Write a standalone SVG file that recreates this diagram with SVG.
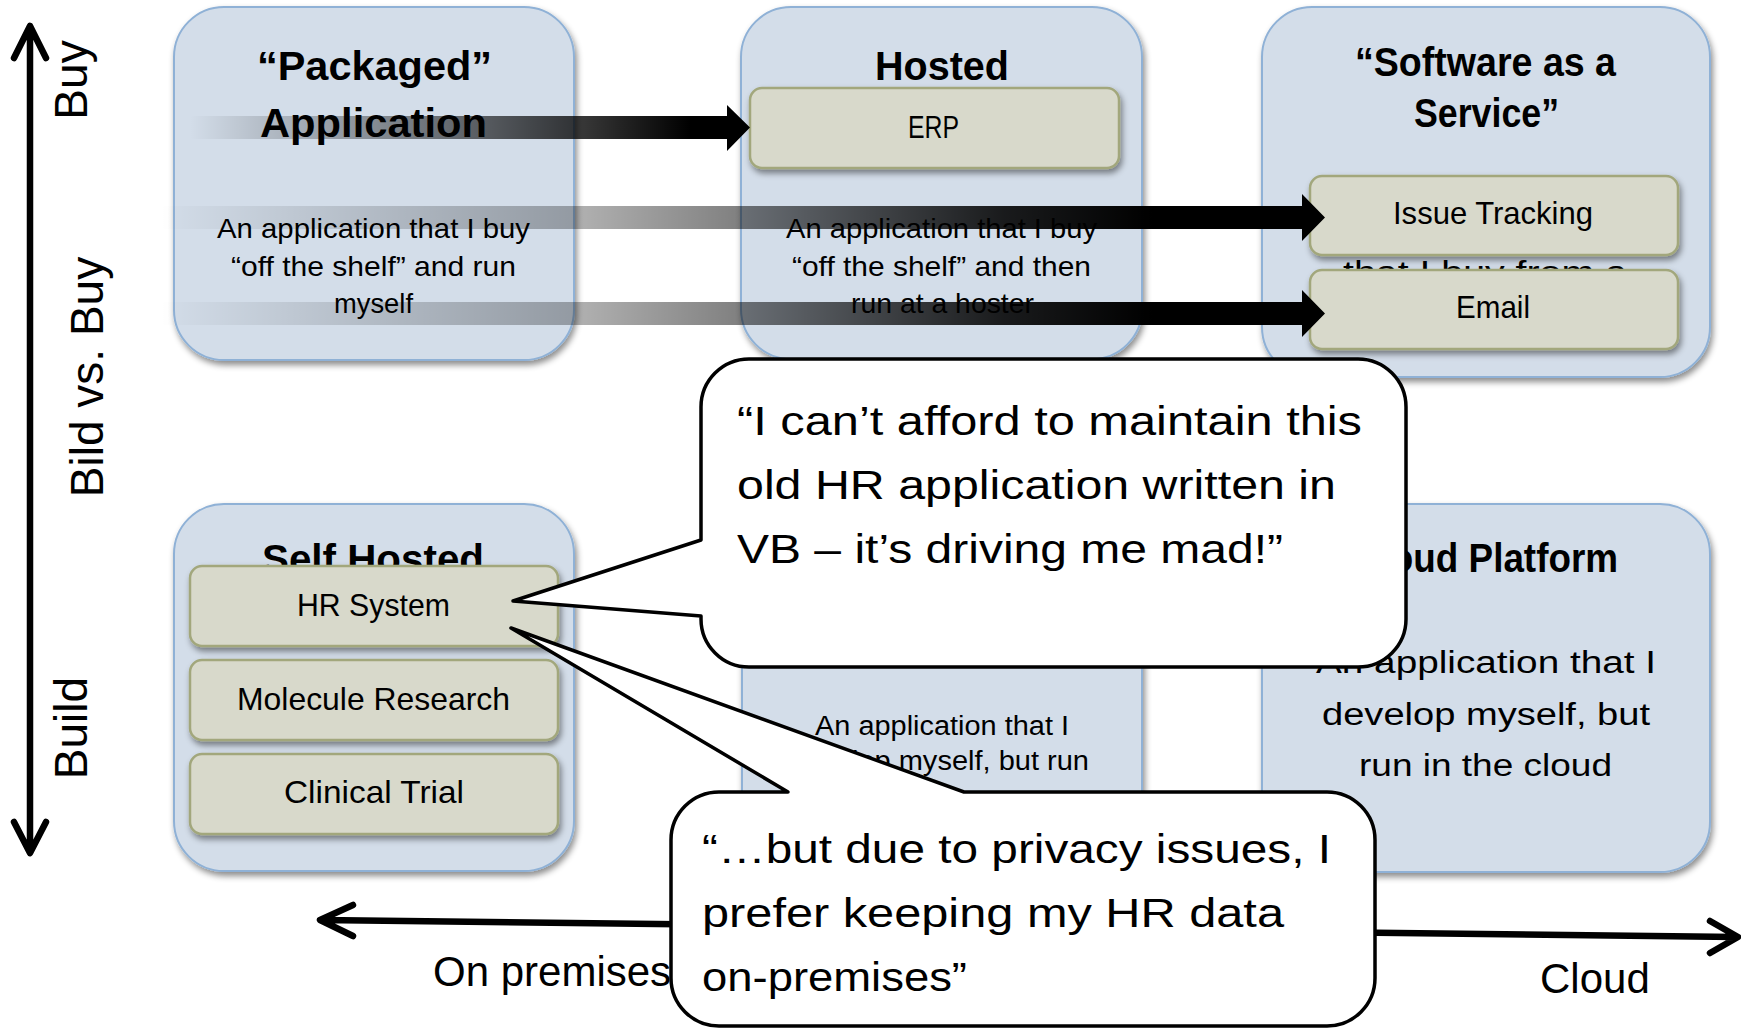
<svg xmlns="http://www.w3.org/2000/svg" width="1741" height="1028" viewBox="0 0 1741 1028">
<style>
text{font-family:"Liberation Sans",Arial,sans-serif;fill:#000}
.box{fill:#d3dde9;stroke:#8fb1d6;stroke-width:2}
.item{fill:#d8d9cb;stroke:#a2a77c;stroke-width:2.5}
.title{font-size:40px;font-weight:bold}
.body{font-size:28px}
.lbl{font-size:32px}
.bub{fill:#fff;stroke:#000;stroke-width:3.5;stroke-linejoin:round}
.axis{fill:none;stroke:#000;stroke-width:6.5;stroke-linecap:round;stroke-linejoin:round}
.ax{font-size:46px}
</style>
<defs>
<filter id="sh" x="-10%" y="-10%" width="125%" height="130%">
<feDropShadow dx="2" dy="4" stdDeviation="3" flood-color="#000" flood-opacity="0.45"/>
</filter>
<linearGradient id="g1" gradientUnits="userSpaceOnUse" x1="190" y1="0" x2="690" y2="0">
<stop offset="0" stop-color="#000" stop-opacity="0"/>
<stop offset="1" stop-color="#000" stop-opacity="1"/>
</linearGradient>
<linearGradient id="g2" gradientUnits="userSpaceOnUse" x1="160" y1="0" x2="1300" y2="0">
<stop offset="0" stop-color="#000" stop-opacity="0"/>
<stop offset="0.36" stop-color="#000" stop-opacity="0.3"/>
<stop offset="0.51" stop-color="#000" stop-opacity="0.5"/>
<stop offset="0.74" stop-color="#000" stop-opacity="0.88"/>
<stop offset="0.87" stop-color="#000" stop-opacity="1"/>
</linearGradient>
</defs>

<g id="axes">
<path class="axis" d="M30,28 V851 M14,58 L30,26 L46,58 M14,822 L30,853 L46,822"/>
<path class="axis" d="M321,920 L1736,937 M353,905 L320,920 L353,936 M1710,921 L1738,937 L1710,953"/>
<text class="ax" text-anchor="middle" transform="translate(87,80) rotate(-90)">Buy</text>
<text class="ax" text-anchor="middle" font-size="47" transform="translate(103,377) rotate(-90)">Bild vs. Buy</text>
<text class="ax" text-anchor="middle" transform="translate(87,728) rotate(-90)">Build</text>
<text x="433" y="986" font-size="42">On premises</text>
<text x="1540" y="993" font-size="42">Cloud</text>
</g>

<g id="packaged">
<rect class="box" x="174" y="7" width="400" height="353" rx="50" filter="url(#sh)"/>
<text class="title" x="257" y="80" textLength="235" lengthAdjust="spacingAndGlyphs">“Packaged”</text>
<text class="title" x="260" y="137" textLength="227" lengthAdjust="spacingAndGlyphs">Application</text>
<text class="body" x="217" y="238" textLength="313" lengthAdjust="spacingAndGlyphs">An application that I buy</text>
<text class="body" x="231" y="276" textLength="285" lengthAdjust="spacingAndGlyphs">“off the shelf” and run</text>
<text class="body" x="334" y="313" textLength="79" lengthAdjust="spacingAndGlyphs">myself</text>
</g>

<g id="hosted">
<rect class="box" x="741" y="7" width="401" height="352" rx="50" filter="url(#sh)"/>
<text class="title" x="875" y="80" textLength="134" lengthAdjust="spacingAndGlyphs">Hosted</text>
<text class="body" x="786" y="238" textLength="311" lengthAdjust="spacingAndGlyphs">An application that I buy</text>
<text class="body" x="792" y="276" textLength="299" lengthAdjust="spacingAndGlyphs">“off the shelf” and then</text>
<text class="body" x="851" y="313" textLength="183" lengthAdjust="spacingAndGlyphs">run at a hoster</text>
</g>
<g id="erp">
<rect class="item" x="750" y="88" width="369" height="80" rx="12" filter="url(#sh)"/>
<text class="lbl" x="908" y="138" textLength="51" lengthAdjust="spacingAndGlyphs">ERP</text>
</g>

<g id="saas">
<rect class="box" x="1262" y="7" width="448" height="370" rx="50" filter="url(#sh)"/>
<text class="title" x="1355" y="76" font-size="38" textLength="261" lengthAdjust="spacingAndGlyphs">“Software as a</text>
<text class="title" x="1414" y="127" font-size="38" textLength="145" lengthAdjust="spacingAndGlyphs">Service”</text>
<text x="1343" y="283" font-size="31" textLength="284" lengthAdjust="spacingAndGlyphs">that I buy from a</text>
</g>
<g id="issue">
<rect class="item" x="1310" y="176" width="368" height="79" rx="12" filter="url(#sh)"/>
<text class="lbl" x="1393" y="224" textLength="200" lengthAdjust="spacingAndGlyphs">Issue Tracking</text>
</g>
<g id="email">
<rect class="item" x="1310" y="270" width="368" height="79" rx="12" filter="url(#sh)"/>
<text class="lbl" x="1456" y="318" textLength="74" lengthAdjust="spacingAndGlyphs">Email</text>
</g>

<g id="selfhosted">
<rect class="box" x="174" y="504" width="400" height="367" rx="50" filter="url(#sh)"/>
<text class="title" x="262" y="573" textLength="222" lengthAdjust="spacingAndGlyphs">Self Hosted</text>
</g>
<g id="hr">
<rect class="item" x="190" y="566" width="368" height="80" rx="12" filter="url(#sh)"/>
<text class="lbl" x="297" y="616" textLength="153" lengthAdjust="spacingAndGlyphs">HR System</text>
</g>
<g id="molecule">
<rect class="item" x="190" y="660" width="368" height="80" rx="12" filter="url(#sh)"/>
<text class="lbl" x="237" y="710" textLength="273" lengthAdjust="spacingAndGlyphs">Molecule Research</text>
</g>
<g id="clinical">
<rect class="item" x="190" y="754" width="368" height="80" rx="12" filter="url(#sh)"/>
<text class="lbl" x="284" y="803" textLength="180" lengthAdjust="spacingAndGlyphs">Clinical Trial</text>
</g>

<g id="hosted-build">
<rect class="box" x="742" y="504" width="400" height="367" rx="50" filter="url(#sh)"/>
<text x="815" y="735" font-size="27" textLength="254" lengthAdjust="spacingAndGlyphs">An application that I</text>
<text x="789" y="770" font-size="27" textLength="300" lengthAdjust="spacingAndGlyphs">develop myself, but run</text>
</g>

<g id="cloudplatform">
<rect class="box" x="1262" y="504" width="448" height="368" rx="50" filter="url(#sh)"/>
<text class="title" x="1354" y="572" font-size="38" textLength="264" lengthAdjust="spacingAndGlyphs">Cloud Platform</text>
<text x="1316" y="673" font-size="31" textLength="340" lengthAdjust="spacingAndGlyphs">An application that I</text>
<text x="1322" y="725" font-size="31" textLength="328" lengthAdjust="spacingAndGlyphs">develop myself, but</text>
<text x="1359" y="776" font-size="31" textLength="253" lengthAdjust="spacingAndGlyphs">run in the cloud</text>
</g>

<g id="connectors">
<path fill="url(#g1)" d="M190,116 H727 V105 L750,127.5 L727,151 V139 H190 Z"/>
<path fill="url(#g2)" d="M160,206 H1302 V194 L1325,217.5 L1302,241 V229 H160 Z"/>
<path fill="url(#g2)" d="M160,302 H1302 V290 L1325,313.5 L1302,337 V325 H160 Z"/>
</g>

<g id="bubble1">
<path class="bub" d="M749,359 H1358 A48,48 0 0 1 1406,407 V619 A48,48 0 0 1 1358,667 H749 A48,48 0 0 1 701,619 V616 L513,601 L701,540 V407 A48,48 0 0 1 749,359 Z"/>
<text x="737" y="435" font-size="40" textLength="625" lengthAdjust="spacingAndGlyphs">“I can’t afford to maintain this</text>
<text x="737" y="499" font-size="40" textLength="599" lengthAdjust="spacingAndGlyphs">old HR application written in</text>
<text x="737" y="563" font-size="40" textLength="546" lengthAdjust="spacingAndGlyphs">VB – it’s driving me mad!”</text>
</g>

<g id="bubble2">
<path class="bub" d="M671,840 A48,48 0 0 1 719,792 H788 L511,628 L964,792 H1327 A48,48 0 0 1 1375,840 V978 A48,48 0 0 1 1327,1026 H719 A48,48 0 0 1 671,978 Z"/>
<text x="702" y="863" font-size="40" textLength="629" lengthAdjust="spacingAndGlyphs">“…but due to privacy issues, I</text>
<text x="702" y="927" font-size="40" textLength="582" lengthAdjust="spacingAndGlyphs">prefer keeping my HR data</text>
<text x="702" y="991" font-size="40" textLength="265" lengthAdjust="spacingAndGlyphs">on-premises”</text>
</g>
</svg>
